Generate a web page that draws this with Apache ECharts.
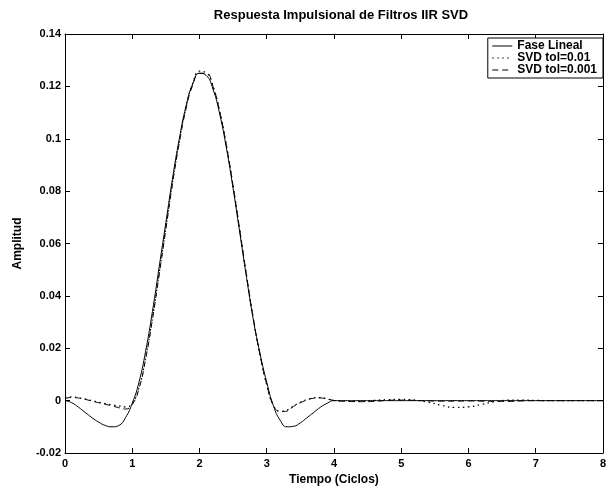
<!DOCTYPE html>
<html>
<head>
<meta charset="utf-8">
<script src="https://cdn.jsdelivr.net/npm/echarts@6/dist/echarts.min.js"></script>
<style>
  html, body { margin: 0; padding: 0; background: #fff; }
  #chart { width: 609px; height: 491px; }
</style>
</head>
<body>
<div id="chart"></div>
<script>
// eje de tiempo (ciclos): paso 0.1 hasta 4, luego paso 0.2
const tiempo = [
  0.0, 0.1, 0.2, 0.3, 0.4, 0.5, 0.6, 0.7, 0.8, 0.9,
  1.0, 1.1, 1.2, 1.3, 1.4, 1.5, 1.6, 1.7, 1.8, 1.9,
  2.0, 2.1, 2.2, 2.3, 2.4, 2.5, 2.6, 2.7, 2.8, 2.9,
  3.0, 3.1, 3.2, 3.3, 3.4, 3.5, 3.6, 3.7, 3.8, 3.9,
  4.0, 4.2, 4.4, 4.6, 4.8, 5.0, 5.2, 5.4, 5.6, 5.8,
  6.0, 6.2, 6.4, 6.6, 6.8, 7.0, 7.2, 7.4, 7.6, 7.8, 8.0
];

// Fase Lineal (linea continua)
const faseLineal = [
  0, -0.0008, -0.0025, -0.0045, -0.0065, -0.0082, -0.0095, -0.0100, -0.0095, -0.0065,
  -0.0010, 0.0070, 0.0190, 0.0340, 0.0510, 0.0680, 0.0850, 0.1000, 0.1125, 0.1210,
  0.1250, 0.1242, 0.1190, 0.1095, 0.0965, 0.0810, 0.0640, 0.0470, 0.0310, 0.0180,
  0.0070, -0.0020, -0.0075, -0.0100, -0.0098, -0.0085, -0.0065, -0.0045, -0.0025, -0.0010,
  0, 0, 0, 0, 0, 0, 0, 0, 0, 0,
  0, 0, 0, 0, 0, 0, 0, 0, 0, 0, 0
];

// SVD tol=0.01 (punteada)
const svd001 = [
  0.0012, 0.0014, 0.0011, 0.0006, 0.0000, -0.0006, -0.0011, -0.0016, -0.0020, -0.0024,
  -0.0010, 0.0050, 0.0165, 0.0315, 0.0485, 0.0660, 0.0835, 0.0990, 0.1120, 0.1212,
  0.1258, 0.1252, 0.1202, 0.1105, 0.0975, 0.0820, 0.0650, 0.0478, 0.0315, 0.0175,
  0.0060, -0.0018, -0.0040, -0.0036, -0.0020, -0.0006, 0.0004, 0.0011, 0.0012, 0.0007,
  0.0001, -0.0002, -0.0003, 0.0001, 0.0004, 0.0005, 0.0002, -0.0006, -0.0018, -0.0026,
  -0.0024, -0.0014, -0.0004, 0.0002, 0.0002, 0.0001, 0, 0, 0, 0, 0
];

// SVD tol=0.001 (discontinua)
const svd0001 = [
  0.0008, 0.0012, 0.0010, 0.0005, -0.0002, -0.0008, -0.0014, -0.0020, -0.0027, -0.0032,
  -0.0015, 0.0045, 0.0160, 0.0310, 0.0480, 0.0655, 0.0830, 0.0985, 0.1115, 0.1205,
  0.1250, 0.1250, 0.1200, 0.1105, 0.0975, 0.0820, 0.0650, 0.0478, 0.0315, 0.0175,
  0.0062, -0.0018, -0.0042, -0.0040, -0.0022, -0.0008, 0.0002, 0.0009, 0.0010, 0.0006,
  0.0001, -0.0003, -0.0004, -0.0003, 0.0001, 0.0002, 0.0001, -0.0001, -0.0002, -0.0002,
  -0.0001, -0.0002, -0.0003, -0.0003, -0.0001, 0, 0, 0, 0, 0, 0
];

const nombres = ['Fase Lineal', 'SVD tol=0.01', 'SVD tol=0.001'];
const yTicks = ['-0.02', '0', '0.02', '0.04', '0.06', '0.08', '0.1', '0.12', '0.14'];

const fuente = 'Liberation Sans, Arial, Helvetica, sans-serif';

function pares(vals) {
  return tiempo.map((t, i) => [t, vals[i]]);
}

const chart = echarts.init(document.getElementById('chart'));

const ejeX = {
  type: 'value', min: 0, max: 8, interval: 1,
  axisLine: { show: true, onZero: false, lineStyle: { color: '#000', width: 1 } },
  axisTick: { show: true, inside: true, length: 5, lineStyle: { color: '#000' } },
  splitLine: { show: false }
};
const ejeY = {
  type: 'value', min: -0.02, max: 0.14, interval: 0.02,
  axisLine: { show: true, onZero: false, lineStyle: { color: '#000', width: 1 } },
  axisTick: { show: true, inside: true, length: 5, lineStyle: { color: '#000' } },
  splitLine: { show: false }
};

chart.setOption({
  animation: false,
  backgroundColor: '#fff',
  title: {
    text: 'Respuesta Impulsional de Filtros IIR SVD',
    left: 336, top: 4, textAlign: 'center',
    textStyle: { fontFamily: fuente, fontSize: 13, fontWeight: 'bold', color: '#000' }
  },
  legend: {
    data: nombres,
    orient: 'vertical',
    right: 6, top: 38,
    itemGap: 0,
    itemWidth: 20, itemHeight: 8,
    padding: [2, 6, 2, 4],
    backgroundColor: '#fff',
    borderColor: '#000', borderWidth: 1,
    itemStyle: { opacity: 0 },
    lineStyle: { width: 1 },
    textStyle: { fontFamily: fuente, fontSize: 12, fontWeight: 'bold', color: '#000', lineHeight: 11 }
  },
  grid: { left: 65, right: 5, top: 34, bottom: 34 },
  xAxis: [
    Object.assign({}, ejeX, {
      position: 'bottom',
      name: 'Tiempo (Ciclos)', nameLocation: 'middle', nameGap: 21,
      nameTextStyle: { fontFamily: fuente, fontSize: 12, fontWeight: 'bold', color: '#000' },
      axisLabel: { fontFamily: fuente, fontSize: 11, fontWeight: 'bold', color: '#000', margin: 5 }
    }),
    Object.assign({}, ejeX, { position: 'top', axisLabel: { show: false } })
  ],
  yAxis: [
    Object.assign({}, ejeY, {
      position: 'left',
      name: 'Amplitud', nameLocation: 'middle', nameGap: 41,
      nameTextStyle: { fontFamily: fuente, fontSize: 12, fontWeight: 'bold', color: '#000' },
      axisLabel: {
        fontFamily: fuente, fontSize: 11, fontWeight: 'bold', color: '#000', margin: 4,
        formatter: v => yTicks[Math.round((v + 0.02) / 0.02)]
      }
    }),
    Object.assign({}, ejeY, { position: 'right', axisLabel: { show: false } })
  ],
  series: [
    {
      name: nombres[0], type: 'line', smooth: true, symbol: 'none',
      data: pares(faseLineal),
      lineStyle: { color: '#000', width: 1, type: 'solid' },
      itemStyle: { color: '#000' }
    },
    {
      name: nombres[1], type: 'line', smooth: true, symbol: 'none',
      data: pares(svd001),
      lineStyle: { color: '#000', width: 1.2, type: [1.5, 3.5] },
      itemStyle: { color: '#000' }
    },
    {
      name: nombres[2], type: 'line', smooth: true, symbol: 'none',
      data: pares(svd0001),
      lineStyle: { color: '#000', width: 1, type: [6, 4] },
      itemStyle: { color: '#000' }
    }
  ]
});
</script>
</body>
</html>
